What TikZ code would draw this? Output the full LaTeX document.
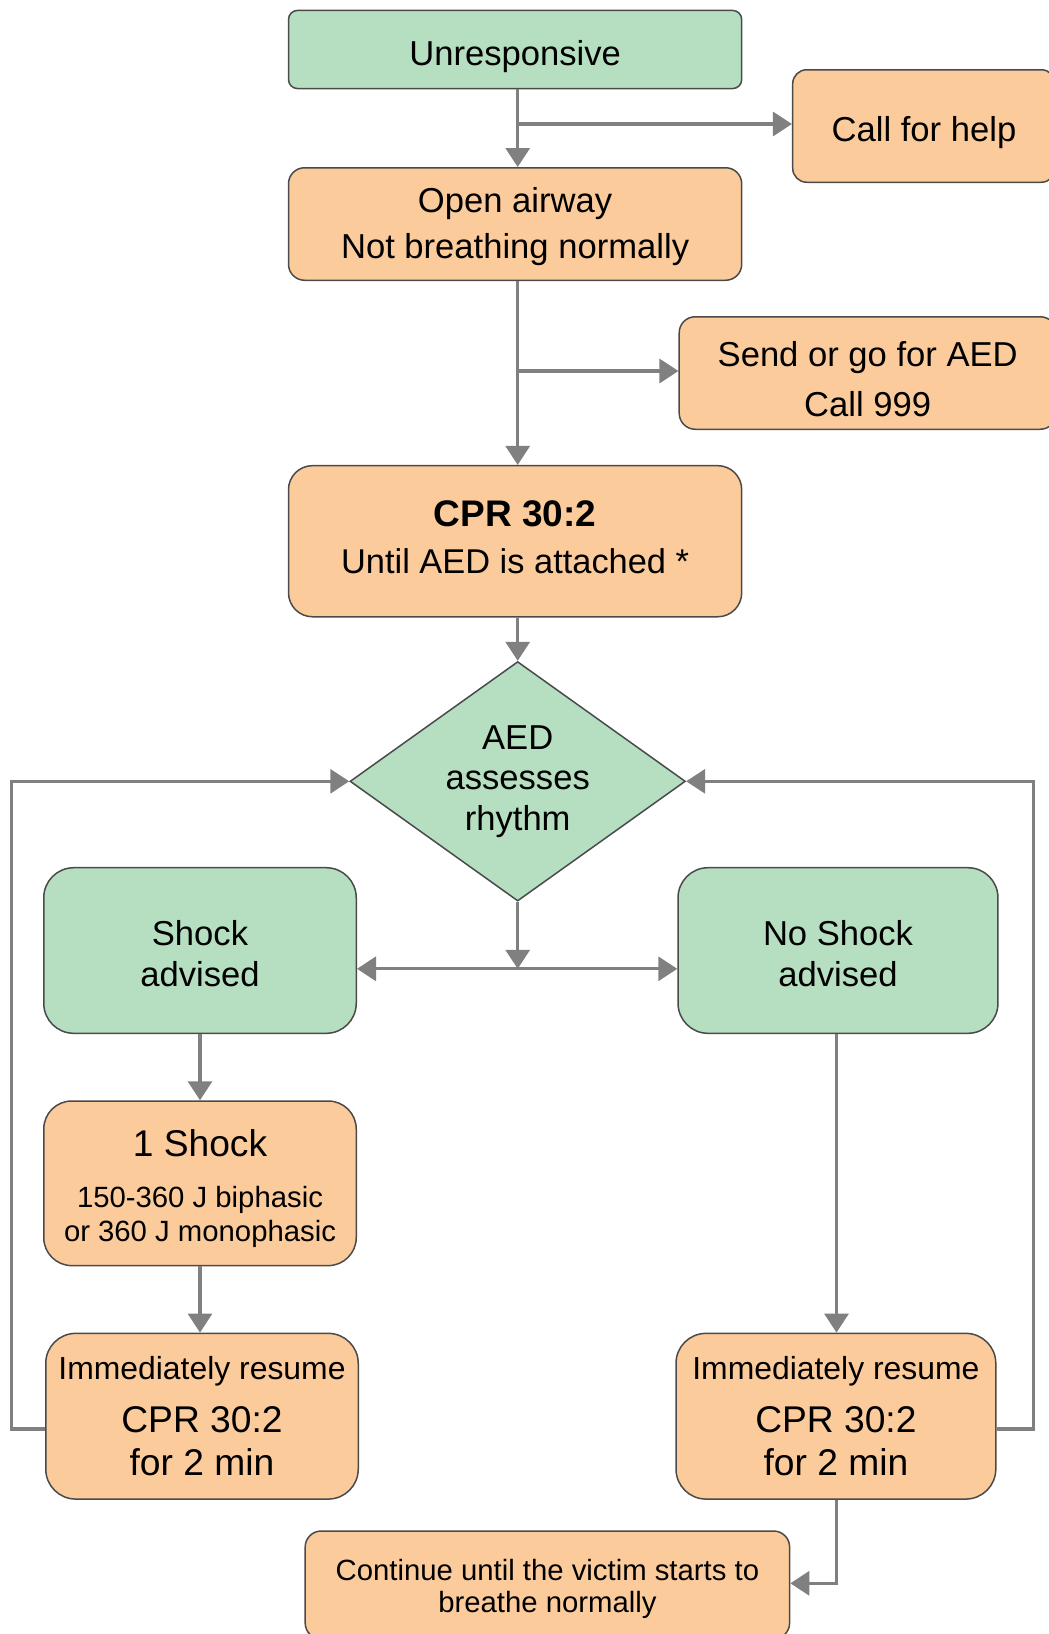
\documentclass[tikz,border=0pt]{standalone}
\usepackage{fontspec}
\setmainfont{Liberation Sans}
\usetikzlibrary{arrows.meta,shapes.geometric}
\definecolor{boxgreen}{HTML}{B5DFC0}
\definecolor{boxorange}{HTML}{FCCB9B}
\definecolor{boxline}{HTML}{4A4A4A}
\definecolor{arrgray}{HTML}{808080}
\newcommand{\fsz}[2]{\fontsize{#1}{#2}\selectfont}
\newcommand{\tp}[1]{\rule{0pt}{#1pt}}
\newcommand{\bt}[1]{\rule[-#1pt]{0pt}{0pt}}
\begin{document}
\begin{tikzpicture}[x=1pt,y=-1pt,
  box/.style={draw=boxline, line width=1.5pt, align=center, inner sep=0pt, text=black},
  gbox/.style={box, fill=boxgreen},
  obox/.style={box, fill=boxorange},
  conn/.style={draw=arrgray, line width=3.2pt},
  arr/.style={conn, -{Triangle[length=19pt,width=24pt]}},
  darr/.style={conn, {Triangle[length=19pt,width=24pt]}-{Triangle[length=19pt,width=24pt]}}
]
\clip (0,0) rectangle (1049,1634);
\fill[white] (0,0) rectangle (1049,1634);

\node[gbox, rounded corners=9pt, minimum width=453.2pt, minimum height=78.1pt, font=\fsz{34.6}{40.6}] (unresp) at (515.1,49.5) {\tp{39.8}Unresponsive};
\node[obox, rounded corners=14pt, minimum width=262.6pt, minimum height=112.5pt, font=\fsz{34.6}{40.6}] (help) at (924,126) {\tp{37.8}Call for help};
\node[obox, rounded corners=16pt, minimum width=453.2pt, minimum height=112.5pt, font=\fsz{34.6}{45.8}] (open) at (515.1,224) {\tp{30.8}Open airway\\Not breathing normally};
\node[obox, rounded corners=16pt, minimum width=377pt, minimum height=112.5pt, font=\fsz{34.6}{50}] (send) at (867.7,373) {\tp{38.2}Send or go for AED\\Call 999};
\node[obox, rounded corners=24pt, minimum width=453.2pt, minimum height=151.1pt, font=\fsz{34.4}{47}] (cpr) at (515.1,541.2) {\fsz{37}{47}\bfseries CPR 30:2\\\fsz{34.4}{47}Until AED is attached *\bt{8.9}};
\node[diamond, aspect=1.4, draw=boxline, fill=boxgreen, line width=1.5pt, minimum width=335.4pt, minimum height=239.5pt, inner sep=0pt, align=center, font=\fsz{34.6}{40.6}] (aed) at (517.7,781.3) {AED\\assesses\\rhythm};
\node[gbox, rounded corners=30pt, minimum width=312.5pt, minimum height=165.6pt, font=\fsz{34.6}{40.6}] (shock) at (200,950.5) {\tp{31.8}Shock\\advised};
\node[gbox, rounded corners=30pt, minimum width=319.9pt, minimum height=165.6pt, font=\fsz{34.6}{40.6}] (noshock) at (838,950.5) {\tp{31.8}No Shock\\advised};
\node[obox, rounded corners=28pt, minimum width=312.5pt, minimum height=164.6pt, font=\fsz{29.3}{33.3}] (oneshock) at (200,1183.3) {\fsz{37.2}{33.3}\tp{36.9}1 Shock\\[18pt]\fsz{29.3}{33.3}150-360 J biphasic\\\fsz{29.3}{33.3}or 360 J monophasic};
\node[obox, rounded corners=30pt, minimum width=312.5pt, minimum height=165.7pt, font=\fsz{37.2}{43.5}] (limm) at (202,1416.2) {\fsz{31.9}{43.5}Immediately resume\\[9.5pt]\fsz{37.2}{43.5}CPR 30:2\\\fsz{37.2}{43.5}for 2 min};
\node[obox, rounded corners=30pt, minimum width=319.8pt, minimum height=165.7pt, font=\fsz{37.2}{43.5}] (rimm) at (835.9,1416.2) {\fsz{31.9}{43.5}Immediately resume\\[9.5pt]\fsz{37.2}{43.5}CPR 30:2\\\fsz{37.2}{43.5}for 2 min};
\node[obox, rounded corners=16pt, minimum width=484.4pt, minimum height=108pt, font=\fsz{29.3}{32.2}] (cont) at (547.4,1585) {\tp{28.9}Continue until the victim starts to\\breathe normally};

\coordinate (b1) at (517.7,124);
\coordinate (b2) at (517.7,371);
\coordinate (split) at (517.7,968.8);
\coordinate (ll) at (11.5,1429);
\coordinate (rl) at (1033.3,1429);
\coordinate (bt) at (836.5,1583.3);

\draw[arr] (unresp.south -| aed.north) -- (open.north -| aed.north);
\draw[arr] (b1) -- (b1 -| help.west);
\draw[arr] (open.south -| aed.north) -- (cpr.north -| aed.north);
\draw[arr] (b2) -- (b2 -| send.west);
\draw[arr] (cpr.south -| aed.north) -- (aed.north);
\draw[arr] (aed.south) -- (split);
\draw[darr] (split -| shock.east) -- (split -| noshock.west);
\draw[arr] (shock.south) -- (oneshock.north);
\draw[arr] (oneshock.south) -- (oneshock.south |- limm.north);
\draw[arr] (noshock.south -| bt) -- (rimm.north -| bt);
\draw[arr] (ll -| limm.west) -- (ll) -- (ll |- aed.west) -- (aed.west);
\draw[arr] (rl -| rimm.east) -- (rl) -- (rl |- aed.east) -- (aed.east);
\draw[arr] (rimm.south -| bt) -- (bt) -- (bt -| cont.east);
\end{tikzpicture}
\end{document}
